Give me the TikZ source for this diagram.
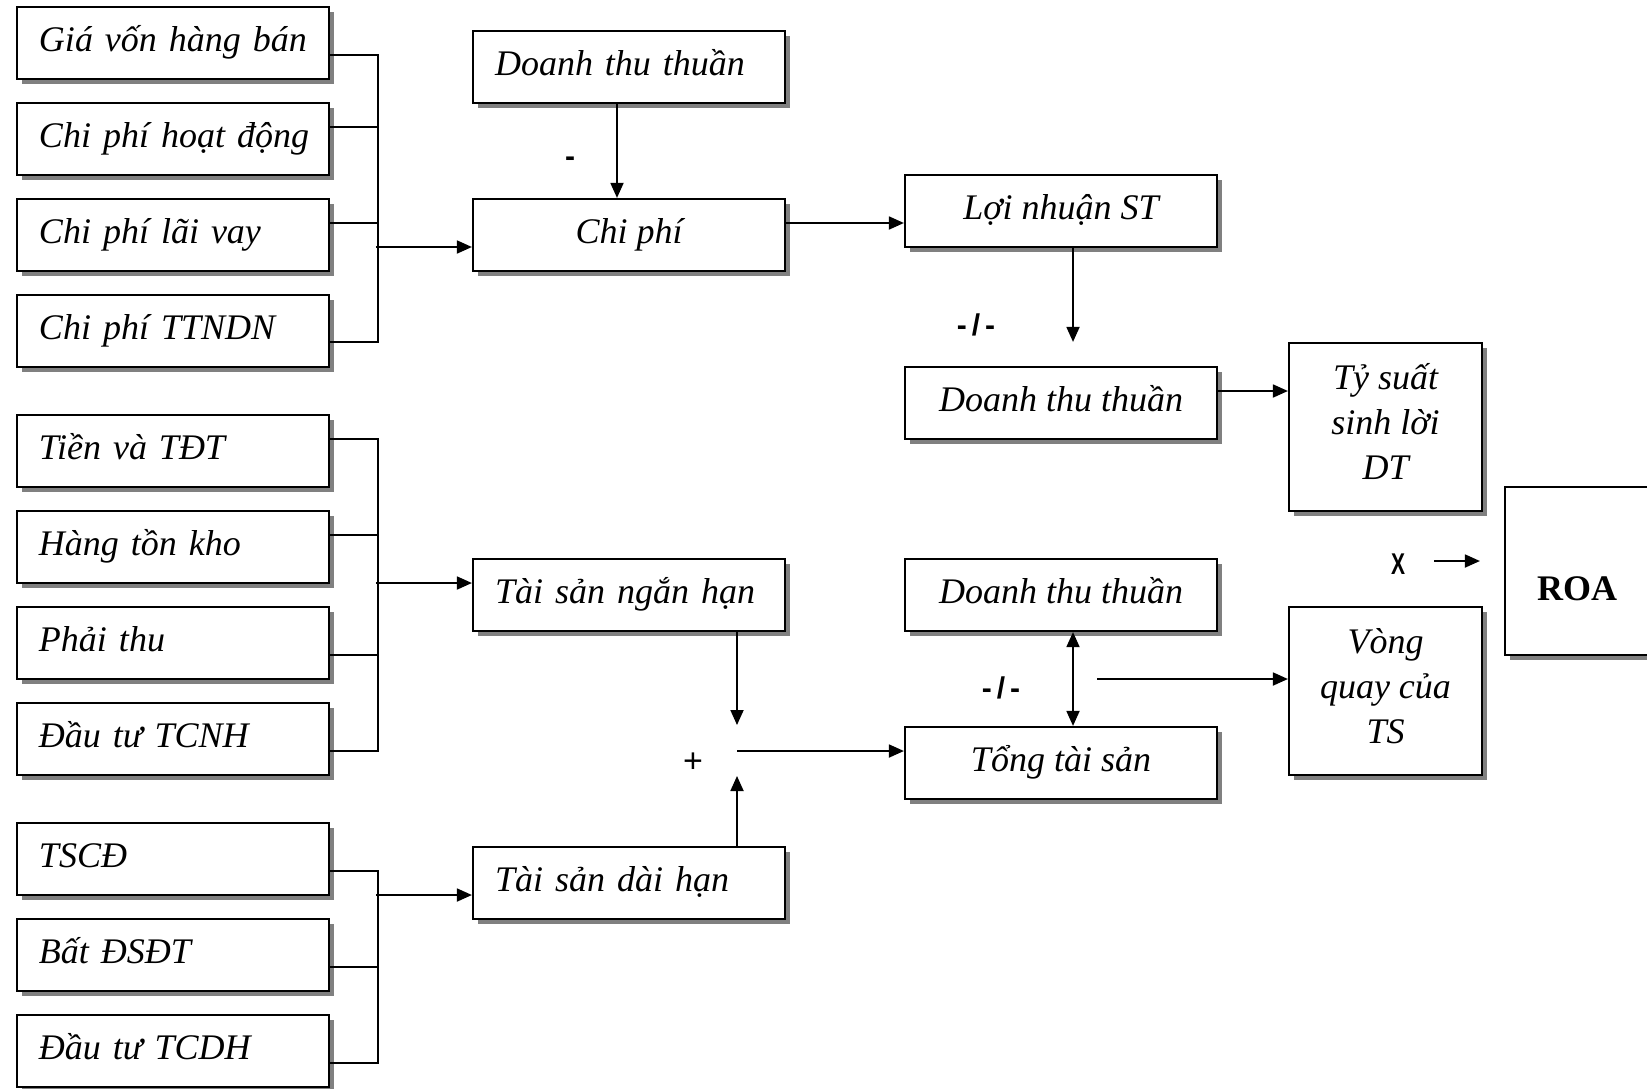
\documentclass[tikz,border=0pt]{standalone}
\usepackage{fontspec}
\usepackage{graphicx}
\setmainfont{Liberation Serif}
\newfontfamily\labelfont{Liberation Sans}
\usetikzlibrary{arrows.meta,shadows,calc}
\begin{document}
\begin{tikzpicture}[x=0.5pt,y=-0.5pt,
  box/.style={draw=black, line width=1.1pt, fill=white, rectangle, inner sep=0pt,
    minimum width=156pt, minimum height=36pt,
    font=\fontsize{18pt}{22.5pt}\selectfont\itshape,
    drop shadow={shadow xshift=2.6pt, shadow yshift=-2.6pt, fill=black!50, opacity=1}},
  lbox/.style={box, text width=134pt, align=left, text height=13pt, text depth=5pt},
  cbox/.style={box, align=center, text height=13pt, text depth=5pt},
  tallbox/.style={box, minimum width=96.5pt, minimum height=84pt, align=center,
    text height=57pt, text depth=5pt},
  roabox/.style={box, minimum width=72pt, minimum height=84pt,
    font=\fontsize{18pt}{22.5pt}\selectfont\bfseries, text height=34pt, text depth=5pt},
  conn/.style={line width=0.9pt},
  arr/.style={conn, -{Triangle[length=7.5pt,width=6.5pt]}},
  darr/.style={conn, {Triangle[length=7.5pt,width=6.5pt]}-{Triangle[length=7.5pt,width=6.5pt]}},
  sign/.style={font=\labelfont\fontsize{15pt}{15pt}\selectfont\bfseries, inner sep=0pt},
  plain sign/.style={font=\labelfont\fontsize{17pt}{17pt}\selectfont, inner sep=0pt},
]
\useasboundingbox (0,0) rectangle (1647,1088);
\fill[white] (0,0) rectangle (1647,1088);

% left column
\node[lbox] (g1) at (173,43) {\mbox{Giá vốn hàng bán}};
\node[lbox] (g2) at (173,139) {\mbox{Chi phí hoạt động}};
\node[lbox] (g3) at (173,235) {Chi phí lãi vay};
\node[lbox] (g4) at (173,331) {Chi phí TTNDN};
\node[lbox] (s1) at (173,451) {Tiền và TĐT};
\node[lbox] (s2) at (173,547) {Hàng tồn kho};
\node[lbox] (s3) at (173,643) {Phải thu};
\node[lbox] (s4) at (173,739) {Đầu tư TCNH};
\node[lbox] (l1) at (173,859) {TSCĐ};
\node[lbox] (l2) at (173,955) {Bất ĐSĐT};
\node[lbox] (l3) at (173,1051) {Đầu tư TCDH};

% middle column
\node[lbox] (dt1) at (629,67) {Doanh thu thuần};
\node[cbox] (cp) at (629,235) {Chi phí};
\node[lbox] (nh) at (629,595) {\mbox{Tài sản ngắn hạn}};
\node[lbox] (dh) at (629,883) {Tài sản dài hạn};

% right column
\node[cbox] (ln) at (1061,211) {Lợi nhuận ST};
\node[cbox] (dt2) at (1061,403) {Doanh thu thuần};
\node[cbox] (dt3) at (1061,595) {Doanh thu thuần};
\node[cbox] (tts) at (1061,763) {Tổng tài sản};

\node[tallbox] (ts) at (1385.5,427) {Tỷ suất\\sinh lời\\DT};
\node[tallbox] (vq) at (1385.5,691) {Vòng\\quay của\\TS};
\node[roabox] (roa) at (1577,571) {ROA};

% signs
\node[sign] (m1) at (570,162) {-};
\node[sign] (d1) at (976,325) {-\,/\,-};
\node[sign] (d2) at (1001,688) {-\,/\,-};
\node[plain sign] (pl) at (693,763) {+};
\node[sign] (xx) at (1398,564) {\scalebox{0.7}[1]{X}};

% cost bracket
\draw[conn] ($(g1.east)+(0,12)$) -| ($(g4.east)+(48,11)$) -- ($(g4.east)+(0,11)$);
\draw[conn] ($(g2.east)+(0,-12)$) -- +(48,0);
\draw[conn] ($(g3.east)+(0,-12)$) -- +(48,0);
\draw[arr] ($(cp.west)+(-96,12)$) -- ($(cp.west)+(0,12)$);

% short-term assets bracket
\draw[conn] ($(s1.east)+(0,-12)$) -| ($(s4.east)+(48,12)$) -- ($(s4.east)+(0,12)$);
\draw[conn] ($(s2.east)+(0,-12)$) -- +(48,0);
\draw[conn] ($(s3.east)+(0,12)$) -- +(48,0);
\draw[arr] ($(nh.west)+(-96,-12)$) -- ($(nh.west)+(0,-12)$);

% long-term assets bracket
\draw[conn] ($(l1.east)+(0,12)$) -| ($(l3.east)+(48,12)$) -- ($(l3.east)+(0,12)$);
\draw[conn] ($(l2.east)+(0,12)$) -- +(48,0);
\draw[arr] ($(dh.west)+(-96,12)$) -- ($(dh.west)+(0,12)$);

% upper chain
\draw[arr] ($(dt1.south)+(-12,0)$) -- ($(cp.north)+(-12,0)$);
\draw[arr] ($(cp.east)+(0,-12)$) -- ($(ln.west)+(0,12)$);
\draw[arr] ($(ln.south)+(12,0)$) -- ($(dt2.north)+(12,-24)$);
\draw[arr] ($(dt2.east)+(0,-12)$) -- ($(ts.west)+(0,-36)$);

% ROA arrow
\coordinate (xa) at (1434,561);
\draw[arr] (xa) -- ($(roa.west)+(-24,-10)$);

% lower chain
\coordinate (jn) at (737,751);
\draw[arr] ($(nh.south)+(108,0)$) -- ($(jn)+(0,-26)$);
\draw[arr] ($(dh.north)+(108,0)$) -- ($(jn)+(0,25)$);
\draw[arr] (jn) -- ($(tts.west)+(0,-12)$);
\draw[darr] ($(dt3.south)+(12,0)$) -- ($(tts.north)+(12,0)$);
\coordinate (va) at (1097,679);
\draw[arr] (va) -- ($(vq.west)+(0,-12)$);
\end{tikzpicture}
\end{document}
